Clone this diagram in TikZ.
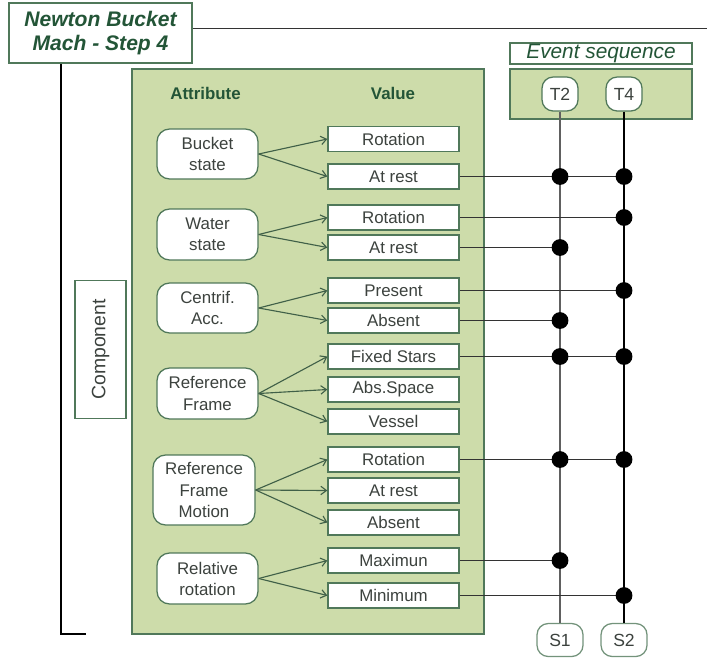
\documentclass[tikz,border=0pt]{standalone}
\usepackage{fontspec}
\setmainfont{Liberation Sans}
\usetikzlibrary{positioning}
\usetikzlibrary{arrows.meta,calc}
\definecolor{panelgreen}{RGB}{205,220,170}
\definecolor{edgegreen}{RGB}{80,120,90}
\definecolor{darkgreen}{RGB}{35,85,55}
\definecolor{txtgray}{RGB}{60,66,62}
\tikzstyle{attr} = [draw=edgegreen, fill=white, rounded corners=9pt, line width=0.9pt,
  minimum width=2.525cm, align=center, text=txtgray,
  font=\fontsize{12}{15}\selectfont]
\tikzstyle{val} = [draw=edgegreen, fill=white, line width=0.9pt,
  minimum width=3.275cm, minimum height=0.625cm, inner sep=0pt, text=txtgray,
  font=\fontsize{12}{14}\selectfont]
\tikzstyle{arr} = [draw=edgegreen!80!black, line width=0.8pt, -{Straight Barb[length=4pt,width=6pt]}]
\tikzstyle{link} = [draw=black!80, line width=0.8pt]
\tikzstyle{dot} = [circle, fill=black, inner sep=0pt, minimum size=0.42cm]

\begin{document}
\begin{tikzpicture}[x=0.025cm, y=-0.025cm,
  evt/.style={draw=edgegreen, fill=white, rounded corners=8pt, line width=0.9pt,
    minimum height=0.85cm, inner sep=2pt, text=txtgray, font=\fontsize{12.5}{14}\selectfont},
  hdr/.style={font=\fontsize{12}{14}\selectfont\bfseries, text=darkgreen}]
  \useasboundingbox (0,0) rectangle (707,659);

  % frame and title
  \draw[black!80, line width=0.7pt] (192,28) -- (707,28);
  \draw[black, line width=0.9pt] (61,63) -- (61,634) -- (86,634);
  \node[draw=edgegreen, fill=white, line width=0.9pt, minimum width=4.575cm, minimum height=1.5cm,
    align=center, text=darkgreen, font=\fontsize{15}{16.5}\selectfont\bfseries\itshape]
    (title) at (100.5,33) {Newton Bucket\\Mach - Step 4};
  \node[draw=edgegreen, line width=0.9pt, minimum width=3.45cm, minimum height=1.275cm,
    rotate=90, text=txtgray, font=\fontsize{13.8}{15}\selectfont]
    (comp) at (100.5,349.5) {Component};

  % main panel
  \draw[draw=edgegreen, fill=panelgreen, line width=0.9pt] (132,69) rectangle (484,634);
  \node[hdr] (hattr) at (205.5,93) {Attribute};
  \node[hdr] (hval) at (393,93) {Value};

  % event sequence
  \node[draw=edgegreen, line width=0.9pt, minimum width=4.55cm, minimum height=0.525cm, inner sep=0pt,
    text=darkgreen, font=\fontsize{14.8}{16}\selectfont\itshape] (evlabel) at (601,53.5) {Event sequence};
  \draw[draw=edgegreen, fill=panelgreen, line width=0.9pt] (510,69) rectangle (692,119);
  \node[evt, minimum width=0.9cm] (t2) at (560,94) {T2};
  \node[evt, minimum width=0.9cm] (t4) at (624,94) {T4};
  \node[evt, minimum width=1.15cm, minimum height=0.825cm, draw=edgegreen!80] (s1) at (560,640) {S1};
  \node[evt, minimum width=1.15cm, minimum height=0.825cm, draw=edgegreen!80] (s2) at (624,640) {S2};
  \draw[gray!75!black, line width=1.1pt] (t2) -- (s1);
  \draw[black, line width=0.8pt] (t4) -- (s2);

  % attributes
  \node[attr, minimum height=1.25cm] (bucket) at (207.5,154) {Bucket\\state};
  \node[attr, minimum height=1.275cm] (water) at (207.5,234.5) {Water\\state};
  \node[attr, minimum height=1.25cm] (centrif) at (207.5,308) {Centrif.\\Acc.};
  \node[attr, minimum height=1.275cm] (refframe) at (207.5,393.5) {Reference\\Frame};
  \node[attr, minimum width=2.55cm, minimum height=1.75cm] (rfmotion) at (204,490) {Reference\\Frame\\Motion};
  \node[attr, minimum height=1.275cm] (relrot) at (207.5,578.5) {Relative\\rotation};

  % values
  \node[val] (bRot) at (393.5,139) {Rotation};
  \node[val] (bRest) at (393.5,176.5) {At rest};
  \node[val] (wRot) at (393.5,217.5) {Rotation};
  \node[val] (wRest) at (393.5,247.5) {At rest};
  \node[val] (cPres) at (393.5,290.5) {Present};
  \node[val] (cAbs) at (393.5,320.5) {Absent};
  \node[val] (fStars) at (393.5,356.5) {Fixed Stars};
  \node[val] (fSpace) at (393.5,389.5) {Abs.Space};
  \node[val] (fVessel) at (393.5,421.5) {Vessel};
  \node[val] (mRot) at (393.5,459.5) {Rotation};
  \node[val] (mRest) at (393.5,490.5) {At rest};
  \node[val] (mAbs) at (393.5,522.5) {Absent};
  \node[val] (rMax) at (393.5,560.5) {Maximun};
  \node[val] (rMin) at (393.5,595.5) {Minimum};

  \draw[arr] (bucket.east) -- (bRot.west);
  \draw[arr] (bucket.east) -- (bRest.west);
  \draw[arr] (water.east) -- (wRot.west);
  \draw[arr] (water.east) -- (wRest.west);
  \draw[arr] (centrif.east) -- (cPres.west);
  \draw[arr] (centrif.east) -- (cAbs.west);
  \draw[arr] (refframe.east) -- (fStars.west);
  \draw[arr] (refframe.east) -- (fSpace.west);
  \draw[arr] (refframe.east) -- (fVessel.west);
  \draw[arr] (rfmotion.east) -- (mRot.west);
  \draw[arr] (rfmotion.east) -- (mRest.west);
  \draw[arr] (rfmotion.east) -- (mAbs.west);
  \draw[arr] (relrot.east) -- (rMax.west);
  \draw[arr] (relrot.east) -- (rMin.west);

  % links to the event sequence
  \draw[link] (bRest.east) -- (bRest.east -| t2) node[dot]{} -- (bRest.east -| t4) node[dot]{};
  \draw[link] (wRot.east) -- (wRot.east -| t4) node[dot]{};
  \draw[link] (wRest.east) -- (wRest.east -| t2) node[dot]{};
  \draw[link] (cPres.east) -- (cPres.east -| t4) node[dot]{};
  \draw[link] (cAbs.east) -- (cAbs.east -| t2) node[dot]{};
  \draw[link] (fStars.east) -- (fStars.east -| t2) node[dot]{} -- (fStars.east -| t4) node[dot]{};
  \draw[link] (mRot.east) -- (mRot.east -| t2) node[dot]{} -- (mRot.east -| t4) node[dot]{};
  \draw[link] (rMax.east) -- (rMax.east -| t2) node[dot]{};
  \draw[link] (rMin.east) -- (rMin.east -| t4) node[dot]{};
\end{tikzpicture}
\end{document}
